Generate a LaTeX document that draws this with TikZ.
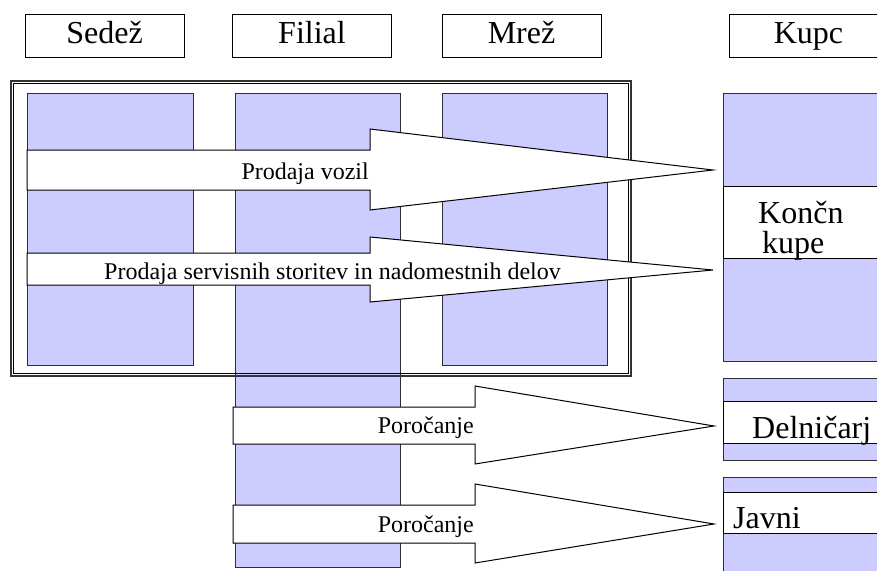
\documentclass[tikz,border=0pt]{standalone}
\usepackage{fontspec}
\setmainfont{Liberation Serif}
\definecolor{lilac}{RGB}{204,204,255}
\definecolor{edge}{RGB}{45,45,55}
\tikzset{
  headbox/.style={draw=black,line width=1pt,fill=white,minimum width=159pt,minimum height=43pt,
    text height=22pt,text depth=6pt,inner sep=0pt,font=\fontsize{32}{34}\selectfont},
  column/.style={draw=edge,line width=1pt,fill=lilac},
  band/.style={draw=black,line width=1pt,fill=white},
  fatarrow/.style={draw=black,line width=1pt,fill=white,line join=miter},
  bigtext/.style={inner sep=0pt,font=\fontsize{32}{34}\selectfont},
  arrowtext/.style={inner sep=0pt,font=\fontsize{24}{26}\selectfont},
}
\begin{document}
\begin{tikzpicture}[x=1pt,y=1pt,yscale=-1,xscale=1]
\clip (0,0) rectangle (877,570);
% Header boxes
\node[headbox] (sedez) at (104.5,35.5) {Sedež};
\node[headbox] (filial) at (312,35.5) {Filial};
\node[headbox] (mrez) at (521.5,35.5) {Mrež};
\node[headbox] (kupc) at (808.5,35.5) {Kupc};
%Shape: Rectangle
\draw[column] (27,93) rectangle (193,365);
%Shape: Rectangle
\draw[column] (235,93) rectangle (400,567);
%Shape: Rectangle
\draw[column] (442,93) rectangle (607,365);
%Shape: Rectangle
\draw[column] (723,93) rectangle (895,361);
\draw[band] (723,186) rectangle (895,258);
%Shape: Rectangle
\draw[column] (723,378) rectangle (895,460);
\draw[band] (723,401) rectangle (895,443);
%Shape: Rectangle
\draw[column] (723,477) rectangle (895,590);
\draw[band] (723,492) rectangle (895,533);
%Shape: Frame
\draw[draw=black!80,line width=1.3pt] (11,81) rectangle (631,376);
\draw[draw=black,line width=0.8pt] (13.5,83.5) rectangle (628.5,373.5);
%Shape: Right Arrow
\draw[fatarrow] (27,150) -- (370,150) -- (370,129) -- (713,170) -- (370,210) -- (370,190) -- (27,190) -- cycle;
%Shape: Right Arrow
\draw[fatarrow] (27,253) -- (370,253) -- (370,237) -- (713,270) -- (370,302) -- (370,285) -- (27,285) -- cycle;
%Shape: Right Arrow
\draw[fatarrow] (233,407) -- (475,407) -- (475,386) -- (714,426) -- (475,464) -- (475,444) -- (233,444) -- cycle;
%Shape: Right Arrow
\draw[fatarrow] (233,505) -- (475,505) -- (475,484) -- (714,524) -- (475,563) -- (475,543) -- (233,543) -- cycle;
% Text Node
\node[arrowtext,anchor=base east] (vozila) at (369,179) {Prodaja vozil};
% Text Node
\node[arrowtext,anchor=base west] (servis) at (104,279) {Prodaja servisnih storitev in nadomestnih delov};
% Text Node
\node[arrowtext,anchor=base east] (porocilo1) at (474,433) {Poročanje};
% Text Node
\node[arrowtext,anchor=base east] (porocilo2) at (474,532) {Poročanje};
% Text Node
\node[bigtext,anchor=base west] (koncn) at (758,223) {Končn};
\node[bigtext,anchor=base west] (kupe) at (762,253) {kupe};
% Text Node
\node[bigtext,anchor=base west] (delnicarj) at (752,438) {Delničarj};
% Text Node
\node[bigtext,anchor=base west] (javni) at (733,528) {Javni};
\end{tikzpicture}
\end{document}
